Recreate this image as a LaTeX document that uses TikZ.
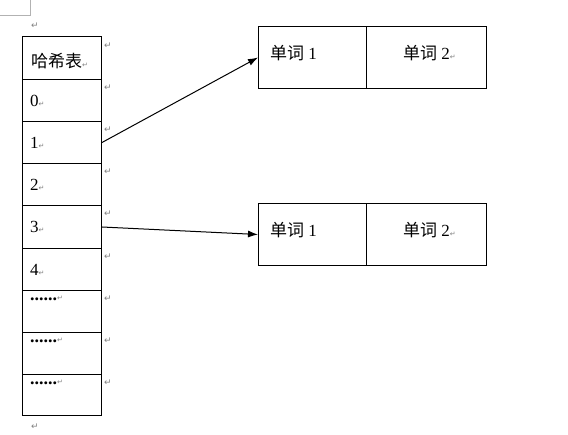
\documentclass[tikz,border=0pt]{standalone}
\usepackage{fontspec}
\setmainfont{Liberation Serif}
\newfontfamily\cjk{Noto Sans CJK SC}
\newfontfamily\symf{DejaVu Sans}
\usetikzlibrary{arrows.meta}
\newcommand{\pmk}{\textcolor{gray}{\symf\fontsize{7}{7}\selectfont ↵}}
\tikzset{
  cell/.style={draw, line width=1pt, minimum width=79pt, minimum height=42pt, inner sep=0pt, anchor=north west},
  lbl/.style={anchor=west, inner sep=0pt, font=\fontsize{17}{17}\selectfont},
  dots/.style={anchor=base west, inner sep=0pt, font=\fontsize{18}{18}\selectfont},
  pm/.style={text=gray, inner sep=0pt, font=\symf\fontsize{9}{9}\selectfont},
  link/.style={line width=1pt, -{Latex[length=10pt,width=7pt]}}
}
\begin{document}
\begin{tikzpicture}[x=1pt,y=-1pt]
\useasboundingbox (0,0) rectangle (568,435);
% page corner mark
\coordinate (c1) at (30,0);
\coordinate (c2) at (30,15);
\coordinate (c3) at (0,15);
\draw[gray!60, line width=0.8pt] (c1) -- (c2) -- (c3);
% table
\node[cell, minimum height=43pt] (h) at (22,36) {};
\node[cell] (r0) at (22,79) {};
\node[cell] (r1) at (22,121) {};
\node[cell] (r2) at (22,163) {};
\node[cell, minimum height=43pt] (r3) at (22,205) {};
\node[cell] (r4) at (22,248) {};
\node[cell] (d1) at (22,290) {};
\node[cell] (d2) at (22,332) {};
\node[cell, minimum height=41pt] (d3) at (22,374) {};
% table texts
\node[lbl] (th) at (31,61) {\cjk 哈希表\pmk};
\node[lbl] (t0) at (30,101) {0\pmk};
\node[lbl] (t1) at (30,143) {1\pmk};
\node[lbl] (t2) at (30,185) {2\pmk};
\node[lbl] (t3) at (30,227) {3\pmk};
\node[lbl] (t4) at (30,270) {4\pmk};
\node[dots] (td1) at (30,301) {\textbf{......}\pmk};
\node[dots] (td2) at (30,343) {\textbf{......}\pmk};
\node[dots] (td3) at (30,385) {\textbf{......}\pmk};
% paragraph marks
\node[pm] (p0) at (35,26) {↵};
\node[pm] (p1) at (108,46) {↵};
\node[pm] (p2) at (108,88) {↵};
\node[pm] (p3) at (108,130) {↵};
\node[pm] (p4) at (108,172) {↵};
\node[pm] (p5) at (108,214) {↵};
\node[pm] (p6) at (108,257) {↵};
\node[pm] (p7) at (108,299) {↵};
\node[pm] (p8) at (108,341) {↵};
\node[pm] (p9) at (108,383) {↵};
\node[pm] (p10) at (35,427) {↵};
% word boxes
\node[cell, minimum width=108pt, minimum height=62pt] (a1) at (258,26) {};
\node[cell, minimum width=120pt, minimum height=62pt] (a2) at (366,26) {};
\node[cell, minimum width=108pt, minimum height=62pt] (b1) at (258,203) {};
\node[cell, minimum width=120pt, minimum height=62pt] (b2) at (366,203) {};
\node[lbl] (wa1) at (270,53) {{\cjk 单词} 1};
\node[lbl] (wa2) at (403,53) {{\cjk 单词} 2\pmk};
\node[lbl] (wb1) at (270,230) {{\cjk 单词} 1};
\node[lbl] (wb2) at (403,230) {{\cjk 单词} 2\pmk};
% links
\draw[link] (r1.east) -- (a1.west);
\draw[link] (r3.east) -- (b1.west);
\end{tikzpicture}
\end{document}
